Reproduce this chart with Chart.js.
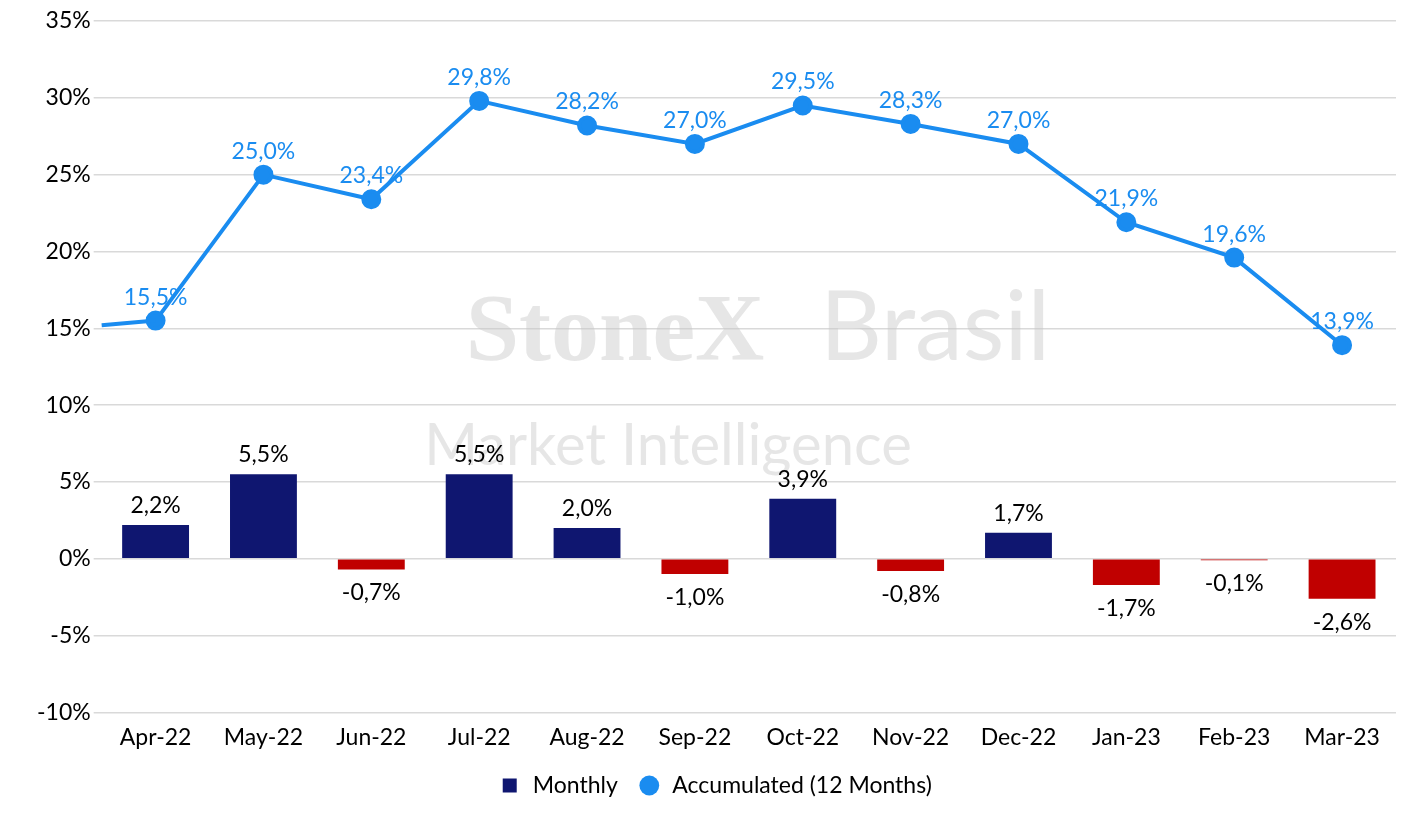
<!DOCTYPE html>
<html><head><meta charset="utf-8">
<script src="https://cdn.jsdelivr.net/npm/chart.js@4"></script>
<style>html,body{margin:0;background:#fff}#w{width:1418px;height:825px}</style>
</head><body><div id="w"><canvas id="c"></canvas></div>
<script>
const categories=["Apr-22","May-22","Jun-22","Jul-22","Aug-22","Sep-22","Oct-22","Nov-22","Dec-22","Jan-23","Feb-23","Mar-23"];
const monthly=[2.2,5.5,-0.7,5.5,2.0,-1.0,3.9,-0.8,1.7,-1.7,-0.1,-2.6];
const accumulated=[15.5,25.0,23.4,29.8,28.2,27.0,29.5,28.3,27.0,21.9,19.6,13.9];
const prevAccumulated=15.2;
const fmt=v=>v.toFixed(1).replace('.',',')+'%';
const F="Lato, 'Open Sans', sans-serif";
const plug={id:'lbl',
beforeDatasetsDraw(ch){const c=ch.ctx;c.save();c.textAlign='center';c.textBaseline='alphabetic';c.fillStyle='rgba(200,200,200,0.45)';
c.font="bold 96px 'Liberation Serif', serif";c.fillText('StoneX',615,360);c.font="96px "+F;c.fillText('Brasil',935,360);
c.font="58px "+F;c.fillText('Market Intelligence',668,465);c.restore();},
afterDatasetsDraw(ch){const c=ch.ctx;c.save();c.font="23px "+F;c.textAlign='center';
const m0=ch.getDatasetMeta(0),m1=ch.getDatasetMeta(1);
const y=ch.scales.y,a=ch.chartArea;c.strokeStyle='#1a8cf0';c.lineWidth=4;c.beginPath();c.moveTo(a.left,y.getPixelForValue(prevAccumulated));c.lineTo(m1.data[0].x,m1.data[0].y);c.stroke();
c.fillStyle='#000';m0.data.forEach((b,i)=>{const v=monthly[i];if(v>=0){c.textBaseline='bottom';c.fillText(fmt(v),b.x,b.y-8);}else{c.textBaseline='top';c.fillText(fmt(v),b.x,b.y+12);}});
c.fillStyle='#1a8cf0';c.textBaseline='bottom';m1.data.forEach((p,i)=>c.fillText(fmt(accumulated[i]),p.x,p.y-12));c.restore();}};
new Chart(document.getElementById('c'),{data:{labels:categories,datasets:[
{type:'bar',label:'Monthly',data:monthly,backgroundColor:monthly.map(v=>v<0?'#c00000':'#0f1670'),barPercentage:0.62,categoryPercentage:1,order:2},
{type:'line',label:'Accumulated (12 Months)',data:accumulated,borderColor:'#1a8cf0',backgroundColor:'#1a8cf0',borderWidth:4,pointRadius:8,pointHoverRadius:8,tension:0,order:1}]},
options:{responsive:true,maintainAspectRatio:false,animation:false,layout:{padding:{top:21,right:22,left:34,bottom:18}},
plugins:{legend:{position:'bottom',labels:{font:{size:23,family:F},color:'#000',usePointStyle:true,boxHeight:14,padding:20,
generateLabels:ch=>[{text:'Monthly',fillStyle:'#0f1670',strokeStyle:'#0f1670',pointStyle:'rect',datasetIndex:0,lineWidth:0},{text:'Accumulated (12 Months)',fillStyle:'#1a8cf0',strokeStyle:'#1a8cf0',pointStyle:'circle',datasetIndex:1,lineWidth:0}]}},tooltip:{enabled:false}},
scales:{x:{grid:{display:false},border:{display:false},ticks:{font:{size:23,family:F},color:'#000'}},
y:{min:-10,max:35,ticks:{stepSize:5,callback:v=>v+'%',font:{size:23,family:F},color:'#000'},grid:{color:'#d9d9d9',lineWidth:1.5},border:{display:false}}}},
plugins:[plug]});
</script></body></html>
